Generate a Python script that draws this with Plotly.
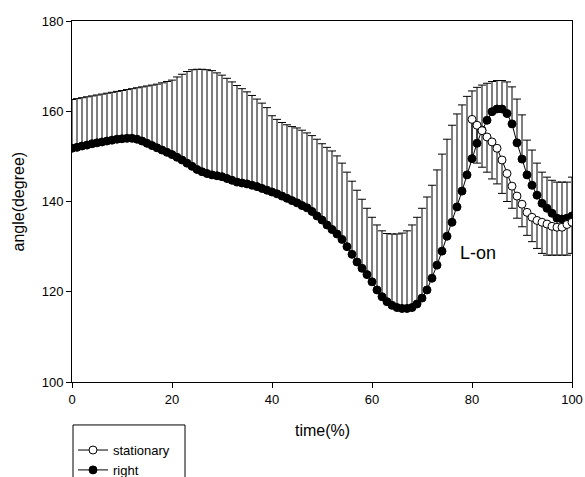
import numpy as np
import plotly.graph_objects as go

# ---- data ----
time_right = list(range(0, 101))
right_mean = [151.8, 152.0, 152.3, 152.5, 152.8, 153.0, 153.2, 153.4, 153.6, 153.8,
              153.9, 154.0, 154.0, 153.8, 153.4, 152.9, 152.4, 151.9, 151.4, 150.9,
              150.4, 149.8, 149.2, 148.5, 147.8, 147.1, 146.6, 146.2, 145.9, 145.7,
              145.5, 145.1, 144.7, 144.3, 144.1, 143.9, 143.6, 143.3, 142.9, 142.5,
              142.1, 141.7, 141.2, 140.7, 140.2, 139.7, 139.1, 138.6, 137.8, 136.8,
              135.9, 134.8, 133.8, 132.8, 131.6, 130.0, 128.3, 126.6, 125.2, 123.8,
              122.2, 120.4, 118.9, 117.8, 117.0, 116.5, 116.3, 116.3, 116.5, 117.3,
              118.6, 120.4, 123.0, 125.9, 129.0, 132.3, 135.4, 138.8, 142.3, 145.9,
              149.5, 152.9, 155.8, 158.0, 159.9, 160.5, 160.5, 159.5, 157.2, 153.0,
              149.4, 145.9, 143.6, 141.4, 139.6, 138.5, 137.4, 136.3, 136.1, 136.3,
              136.8]
right_upper = [162.6, 162.8, 163.0, 163.2, 163.4, 163.6, 163.8, 164.0, 164.2, 164.4,
               164.6, 164.8, 165.0, 165.2, 165.4, 165.6, 165.8, 166.0, 166.3, 166.6,
               166.9, 167.6, 168.2, 168.8, 169.2, 169.3, 169.3, 169.2, 169.0, 168.5,
               168.0, 167.3, 166.5, 165.7, 165.0, 164.3, 163.5, 162.7, 161.8, 160.8,
               159.0, 158.2, 157.5, 157.0, 156.6, 156.3, 155.8, 155.2, 154.6, 153.8,
               152.8, 152.0, 151.2, 150.1, 148.5, 146.5, 144.5, 142.5, 140.5, 138.5,
               136.5, 134.8, 133.5, 132.9, 132.8, 132.8, 133.0, 133.5, 134.8, 136.5,
               138.5, 141.0, 143.6, 147.0, 150.5, 153.8, 156.9, 159.4, 161.4, 163.3,
               164.5, 165.3, 165.8, 166.2, 166.6, 166.8, 166.8, 166.5, 165.4, 162.7,
               159.2, 153.6, 151.4, 148.5, 146.5, 145.4, 144.7, 144.3, 144.3, 144.3,
               145.4]

time_stat = list(range(80, 101))
stat_mean = [158.2, 156.9, 155.7, 154.3, 153.2, 151.8, 149.2, 146.2, 143.4, 141.2,
             139.4, 137.6, 136.5, 135.8, 135.4, 135.0, 134.5, 134.3, 134.3, 134.9,
             135.4]
stat_lower = [149.2, 148.5, 147.6, 146.5, 145.0, 143.9, 141.8, 140.0, 138.5, 136.3,
              134.4, 132.5, 131.1, 129.6, 128.5, 128.1, 128.1, 128.1, 128.1, 128.1,
              128.5]

x_ticks = [0, 20, 40, 60, 80, 100]
y_ticks = [100, 120, 140, 160, 180]

right_err = (np.array(right_upper) - np.array(right_mean)).tolist()
stat_err = (np.array(stat_mean) - np.array(stat_lower)).tolist()

FONT = "Arial, Liberation Sans, sans-serif"

fig = go.Figure()
fig.add_trace(go.Scatter(
    x=time_right, y=right_mean, name="right", mode="lines+markers",
    line=dict(color="black", width=1),
    marker=dict(symbol="circle", size=8, color="black", line=dict(color="black", width=1)),
    error_y=dict(type="data", symmetric=False, array=right_err,
                 arrayminus=[0] * len(right_err), color="black", thickness=1, width=4),
))
fig.add_trace(go.Scatter(
    x=time_stat, y=stat_mean, name="stationary", mode="lines+markers",
    line=dict(color="black", width=1),
    marker=dict(symbol="circle", size=8, color="white", line=dict(color="black", width=1)),
    error_y=dict(type="data", symmetric=False, array=[0] * len(stat_err),
                 arrayminus=stat_err, color="black", thickness=1, width=4),
))

fig.add_annotation(x=81.2, y=128.6, text="L-on", showarrow=False,
                   font=dict(family=FONT, size=18, color="black"))

# axis titles
fig.add_annotation(xref="paper", yref="paper", x=0.5, y=-0.135, text="time(%)",
                   showarrow=False, xanchor="center", yanchor="middle",
                   font=dict(family=FONT, size=16, color="black"))
fig.add_annotation(xref="paper", yref="paper", x=-0.108, y=0.5, text="angle(degree)",
                   showarrow=False, xanchor="center", yanchor="middle", textangle=-90,
                   font=dict(family=FONT, size=16, color="black"))

# legend frame (extends past the bottom edge, as in the reference)
fig.add_shape(type="rect", xref="paper", yref="paper",
              x0=0.002, x1=0.226, y0=-0.119, y1=-0.40,
              line=dict(color="black", width=1), fillcolor="rgba(0,0,0,0)")

fig.update_layout(
    width=585, height=477,
    margin=dict(l=72, r=13, t=21, b=95, autoexpand=False),
    paper_bgcolor="white", plot_bgcolor="white",
    font=dict(family=FONT, size=13, color="black"),
    showlegend=True,
    legend=dict(x=0.002, y=-0.147, xanchor="left", yanchor="top",
                traceorder="reversed", borderwidth=0,
                bgcolor="rgba(0,0,0,0)", font=dict(family=FONT, size=13, color="black"),
                tracegroupgap=0),
    xaxis=dict(range=[0, 100], tickvals=x_ticks, ticks="outside", ticklen=5,
               tickcolor="black", showline=True, linecolor="black", linewidth=1,
               mirror=True, showgrid=False, zeroline=False, automargin=False,
               tickfont=dict(family=FONT, size=13)),
    yaxis=dict(range=[100, 180], tickvals=y_ticks, ticks="outside", ticklen=5,
               tickcolor="black", showline=True, linecolor="black", linewidth=1,
               mirror=True, showgrid=False, zeroline=False, automargin=False,
               tickfont=dict(family=FONT, size=13)),
)

fig.write_html("out.html", config={"displayModeBar": False},
               post_script="document.body.style.margin='0';document.body.style.overflow='hidden';")
